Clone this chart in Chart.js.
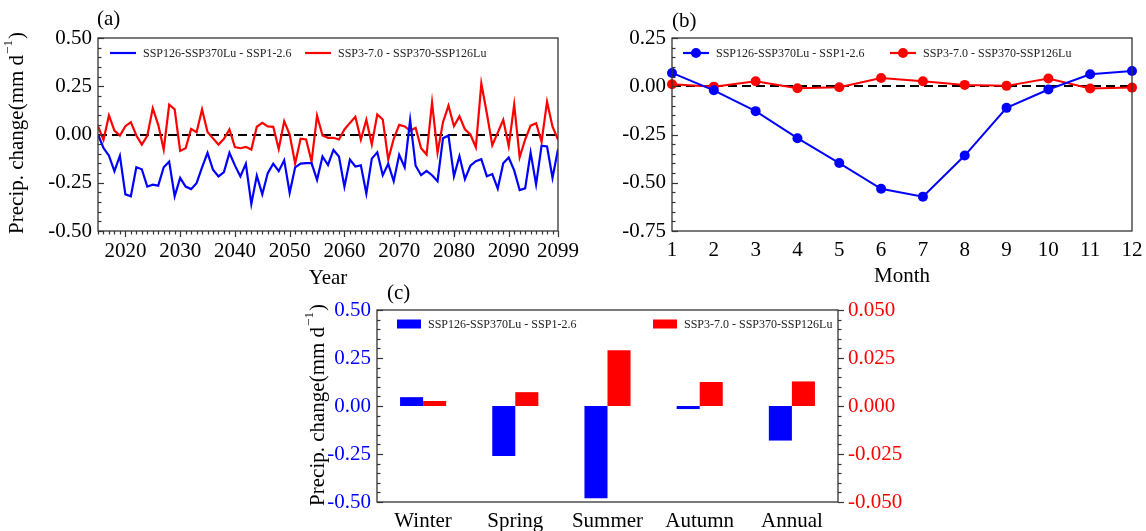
<!DOCTYPE html>
<html>
<head>
<meta charset="utf-8">
<script src="https://cdn.jsdelivr.net/npm/chart.js@4.4.1/dist/chart.umd.min.js"></script>
<style>
  html, body { margin: 0; padding: 0; background: #fff; }
  #wrap { position: relative; width: 1146px; height: 531px; overflow: hidden; }
  canvas { position: absolute; }
</style>
</head>
<body>
<div id="wrap">
  <canvas id="ca" width="590" height="290" style="left:0px;top:0px;"></canvas>
  <canvas id="cb" width="571" height="290" style="left:575px;top:0px;"></canvas>
  <canvas id="cc" width="620" height="251" style="left:290px;top:280px;"></canvas>
</div>
<script>
// ---- data ----
var seriesNames = ['SSP126-SSP370Lu - SSP1-2.6', 'SSP3-7.0 - SSP370-SSP126Lu'];

var years = [];
for (var yr = 2015; yr <= 2099; yr++) years.push(yr);

// (a) annual series 2015-2099
var annualBlue = [
  0.0, -0.07, -0.11, -0.19, -0.11, -0.31, -0.32, -0.17, -0.18, -0.27,
  -0.26, -0.265, -0.17, -0.14, -0.32, -0.225, -0.27, -0.283, -0.252, -0.17,
  -0.095, -0.183, -0.217, -0.195, -0.095, -0.16, -0.217, -0.152, -0.36, -0.213,
  -0.31, -0.2, -0.151, -0.19, -0.133, -0.302, -0.17, -0.151, -0.148, -0.148,
  -0.235, -0.114, -0.158, -0.08, -0.114, -0.27, -0.13, -0.166, -0.16, -0.306,
  -0.125, -0.092, -0.211, -0.152, -0.242, -0.105, -0.17, 0.076, -0.162, -0.211,
  -0.189, -0.211, -0.242, -0.019, -0.005, -0.216, -0.112, -0.231, -0.162, -0.138,
  -0.128, -0.216, -0.205, -0.28, -0.149, -0.119, -0.186, -0.288, -0.279, -0.094,
  -0.259, -0.058, -0.062, -0.225, -0.076
];
var annualRed = [
  0.043, -0.028, 0.099, 0.02, -0.005, 0.043, 0.064, -0.005, -0.052, -0.007,
  0.136, 0.05, -0.078, 0.155, 0.13, -0.085, -0.071, 0.029, 0.012, 0.13,
  0.013, -0.02, -0.052, -0.022, 0.026, -0.065, -0.071, -0.064, -0.078, 0.04,
  0.06, 0.042, 0.04, -0.075, 0.069, 0.0, -0.15, -0.022, -0.026, -0.14,
  0.098, -0.005, -0.017, -0.017, -0.026, 0.026, 0.06, 0.092, -0.026, 0.076,
  -0.052, 0.104, 0.078, -0.13, -0.022, 0.05, 0.042, 0.02, 0.035, -0.071,
  -0.104, 0.166, -0.094, 0.064, 0.15, 0.043, 0.094, 0.027, 0.0, -0.066,
  0.264, 0.11, -0.055, 0.01, 0.076, -0.06, 0.155, -0.118, -0.026, 0.046,
  0.058, -0.038, 0.17, 0.04, -0.026
];
var yearTicks = [2020, 2030, 2040, 2050, 2060, 2070, 2080, 2090, 2099];
var aTicks = [-0.5, -0.25, 0, 0.25, 0.5];

// (b) monthly
var months = [1, 2, 3, 4, 5, 6, 7, 8, 9, 10, 11, 12];
var monthBlue = [0.069, -0.021, -0.129, -0.269, -0.398, -0.531, -0.572, -0.359, -0.112, -0.017, 0.062, 0.079];
var monthRed = [0.010, -0.002, 0.026, -0.010, -0.005, 0.043, 0.026, 0.007, 0.002, 0.040, -0.012, -0.007];
var bTicks = [-0.75, -0.5, -0.25, 0, 0.25];

// (c) seasonal
var seasons = ['Winter', 'Spring', 'Summer', 'Autumn', 'Annual'];
var seasonBlue = [0.046, -0.26, -0.48, -0.016, -0.18];
var seasonRed = [0.0026, 0.0072, 0.029, 0.0125, 0.0128];
var cLeftTicks = [-0.5, -0.25, 0, 0.25, 0.5];
var cRightTicks = [-0.05, -0.025, 0, 0.025, 0.05];

// ---- style ----
var BLUE = 'rgb(0,0,255)';
var RED = 'rgb(255,0,0)';
var FAM = '"Liberation Serif", "Times New Roman", serif';
var tickFont = { family: FAM, size: 21 };

function fixTicks(list) {
  return function (s) { s.ticks = list.map(function (v) { return { value: v }; }); };
}

// frame, ticks, zero line, legend and texts
var deco = {
  id: 'deco',
  beforeDatasetsDraw: function (chart, args, o) {
    if (!o.zero) return;
    var ctx = chart.ctx, a = chart.chartArea;
    var y0 = Math.round(chart.scales.y.getPixelForValue(0));
    ctx.save();
    ctx.strokeStyle = '#000';
    ctx.lineWidth = 2;
    ctx.setLineDash([9, 5]);
    ctx.beginPath();
    ctx.moveTo(a.left, y0);
    ctx.lineTo(a.right, y0);
    ctx.stroke();
    ctx.restore();
  },
  afterDraw: function (chart, args, o) {
    var ctx = chart.ctx, a = chart.chartArea;
    ctx.save();
    ctx.strokeStyle = '#333';
    ctx.lineWidth = 1.3;
    ctx.strokeRect(a.left, a.top, a.right - a.left, a.bottom - a.top);

    (o.ticks || []).forEach(function (t) {
      var sc = chart.scales[t.axis];
      var n = Math.round((t.to - t.from) / t.step);
      ctx.strokeStyle = '#333';
      ctx.lineWidth = 1.2;
      for (var i = 0; i <= n; i++) {
        var v = t.from + i * t.step;
        var major = t.majors.some(function (m) { return Math.abs(m - v) < 1e-6; });
        var len = major ? 6 : 3.5;
        var p = Math.round(sc.getPixelForValue(v)) + 0.5;
        ctx.beginPath();
        if (t.side === 'left') { ctx.moveTo(a.left, p); ctx.lineTo(a.left + t.dir * len, p); }
        else if (t.side === 'right') { ctx.moveTo(a.right, p); ctx.lineTo(a.right + t.dir * len, p); }
        else { ctx.moveTo(p, a.bottom); ctx.lineTo(p, a.bottom + t.dir * len); }
        ctx.stroke();
      }
    });

    if (o.legend) {
      var L = o.legend;
      ctx.font = L.size + 'px ' + FAM;
      ctx.textBaseline = 'middle';
      ctx.textAlign = 'left';
      L.items.forEach(function (dx, i) {
        var ds = chart.data.datasets[i];
        var x = a.left + dx, y = a.top + L.dy;
        var col = ds.borderColor || ds.backgroundColor;
        if (L.type === 'rect') {
          ctx.fillStyle = ds.backgroundColor;
          ctx.fillRect(x, y - L.h / 2, L.len, L.h);
        } else {
          ctx.strokeStyle = col;
          ctx.lineWidth = 2.2;
          ctx.beginPath(); ctx.moveTo(x, y); ctx.lineTo(x + L.len, y); ctx.stroke();
          if (L.type === 'point') {
            ctx.fillStyle = col;
            ctx.beginPath(); ctx.arc(x + L.len / 2, y, 5, 0, Math.PI * 2); ctx.fill();
          }
        }
        ctx.fillStyle = '#222';
        ctx.fillText(ds.label, x + L.len + L.gap, y + 1);
      });
    }

    (o.texts || []).forEach(function (t) {
      ctx.font = t.size + 'px ' + FAM;
      ctx.fillStyle = '#000';
      ctx.textAlign = t.align || 'center';
      ctx.textBaseline = 'middle';
      ctx.fillText(t.text, t.x, t.y);
    });

    if (o.ytitle) {
      var T = o.ytitle;
      ctx.translate(T.x, T.y);
      ctx.rotate(-Math.PI / 2);
      var main = 'Precip. change(mm d';
      ctx.font = T.size + 'px ' + FAM;
      var w1 = ctx.measureText(main).width;
      var w3 = ctx.measureText(')').width;
      ctx.font = Math.round(T.size * 0.62) + 'px ' + FAM;
      var w2 = ctx.measureText('\u22121').width;
      var x0 = -(w1 + w2 + w3) / 2;
      ctx.fillStyle = '#000';
      ctx.textAlign = 'left';
      ctx.textBaseline = 'middle';
      ctx.font = T.size + 'px ' + FAM;
      ctx.fillText(main, x0, 0);
      ctx.font = Math.round(T.size * 0.62) + 'px ' + FAM;
      ctx.fillText('\u22121', x0 + w1 + 1, -T.size * 0.42);
      ctx.font = T.size + 'px ' + FAM;
      ctx.fillText(')', x0 + w1 + w2 + 2, 0);
    }
    ctx.restore();
  }
};

function pts(xs, ys) {
  return xs.map(function (x, i) { return { x: x, y: ys[i] }; });
}

// ---- (a) ----
new Chart(document.getElementById('ca'), {
  type: 'line',
  data: {
    datasets: [
      { label: seriesNames[0], data: pts(years, annualBlue), borderColor: BLUE, borderWidth: 2.2, pointRadius: 0, tension: 0 },
      { label: seriesNames[1], data: pts(years, annualRed), borderColor: RED, borderWidth: 2.2, pointRadius: 0, tension: 0 }
    ]
  },
  options: {
    responsive: false,
    animation: false,
    layout: { padding: { left: 0, right: 32, top: 38, bottom: 0 } },
    plugins: {
      legend: { display: false },
      tooltip: { enabled: false },
      deco: {
        zero: true,
        ticks: [
          { axis: 'y', side: 'left', dir: 1, from: -0.5, to: 0.5, step: 0.05, majors: aTicks },
          { axis: 'x', side: 'bottom', dir: 1, from: 2015, to: 2099, step: 1, majors: yearTicks }
        ],
        legend: { type: 'line', dy: 15, len: 26, gap: 7, size: 12, items: [12, 207] },
        texts: [
          { text: '(a)', x: 97, y: 19, size: 21, align: 'left' },
          { text: 'Year', x: 328, y: 278, size: 21 }
        ],
        ytitle: { x: 17, y: 134, size: 21 }
      }
    },
    scales: {
      x: {
        type: 'linear', min: 2015, max: 2099,
        grid: { display: false, drawTicks: false }, border: { display: false },
        afterBuildTicks: fixTicks(yearTicks),
        ticks: { font: tickFont, color: '#000', padding: 8, maxRotation: 0, autoSkip: false,
                 callback: function (v) { return String(v); } },
        afterFit: function (s) { s.height = 59; s.paddingLeft = 0; s.paddingRight = 0; }
      },
      y: {
        min: -0.5, max: 0.5,
        grid: { display: false, drawTicks: false }, border: { display: false },
        afterBuildTicks: fixTicks(aTicks),
        ticks: { font: tickFont, color: '#000', padding: 6,
                 callback: function (v) { return v.toFixed(2); } },
        afterFit: function (s) { s.width = 98; s.paddingTop = 0; s.paddingBottom = 0; }
      }
    }
  },
  plugins: [deco]
});

// ---- (b) ----
new Chart(document.getElementById('cb'), {
  type: 'line',
  data: {
    datasets: [
      { label: seriesNames[0], data: pts(months, monthBlue), borderColor: BLUE, backgroundColor: BLUE,
        borderWidth: 2, pointRadius: 5, pointBackgroundColor: BLUE, pointBorderWidth: 0, tension: 0 },
      { label: seriesNames[1], data: pts(months, monthRed), borderColor: RED, backgroundColor: RED,
        borderWidth: 2, pointRadius: 5, pointBackgroundColor: RED, pointBorderWidth: 0, tension: 0 }
    ]
  },
  options: {
    responsive: false,
    animation: false,
    clip: false,
    layout: { padding: { left: 0, right: 14, top: 38, bottom: 0 } },
    plugins: {
      legend: { display: false },
      tooltip: { enabled: false },
      deco: {
        zero: true,
        ticks: [
          { axis: 'y', side: 'left', dir: 1, from: -0.75, to: 0.25, step: 0.05, majors: bTicks }
        ],
        legend: { type: 'point', dy: 15, len: 26, gap: 7, size: 12, items: [11, 218] },
        texts: [
          { text: '(b)', x: 97, y: 21, size: 21, align: 'left' },
          { text: 'Month', x: 327, y: 276, size: 21 }
        ]
      }
    },
    scales: {
      x: {
        type: 'linear', min: 1, max: 12,
        grid: { display: false, drawTicks: false }, border: { display: false },
        afterBuildTicks: fixTicks(months),
        ticks: { font: tickFont, color: '#000', padding: 7, maxRotation: 0, autoSkip: false,
                 callback: function (v) { return String(v); } },
        afterFit: function (s) { s.height = 59; s.paddingLeft = 0; s.paddingRight = 0; }
      },
      y: {
        min: -0.75, max: 0.25,
        grid: { display: false, drawTicks: false }, border: { display: false },
        afterBuildTicks: fixTicks(bTicks),
        ticks: { font: tickFont, color: '#000', padding: 6,
                 callback: function (v) { return v.toFixed(2); } },
        afterFit: function (s) { s.width = 97; s.paddingTop = 0; s.paddingBottom = 0; }
      }
    }
  },
  plugins: [deco]
});

// ---- (c) ----
new Chart(document.getElementById('cc'), {
  type: 'bar',
  data: {
    labels: seasons,
    datasets: [
      { label: seriesNames[0], data: seasonBlue, backgroundColor: BLUE, yAxisID: 'y' },
      { label: seriesNames[1], data: seasonRed, backgroundColor: RED, yAxisID: 'y1' }
    ]
  },
  options: {
    responsive: false,
    animation: false,
    barPercentage: 1,
    categoryPercentage: 0.5,
    layout: { padding: { left: 0, right: 0, top: 30, bottom: 0 } },
    plugins: {
      legend: { display: false },
      tooltip: { enabled: false },
      deco: {
        ticks: [
          { axis: 'y', side: 'left', dir: 1, from: -0.5, to: 0.5, step: 0.05, majors: cLeftTicks },
          { axis: 'y1', side: 'right', dir: 1, from: -0.05, to: 0.05, step: 0.005, majors: cRightTicks }
        ],
        legend: { type: 'rect', dy: 14, len: 24, h: 9, gap: 7, size: 12, items: [20, 276] },
        texts: [
          { text: '(c)', x: 97, y: 13, size: 21, align: 'left' }
        ],
        ytitle: { x: 28, y: 126, size: 21 }
      }
    },
    scales: {
      x: {
        grid: { display: false, drawTicks: false }, border: { display: false },
        ticks: { font: tickFont, color: '#000', padding: 7, maxRotation: 0, autoSkip: false },
        afterFit: function (s) { s.height = 29; s.paddingLeft = 0; s.paddingRight = 0; }
      },
      y: {
        position: 'left', min: -0.5, max: 0.5,
        grid: { display: false, drawTicks: false }, border: { display: false },
        afterBuildTicks: fixTicks(cLeftTicks),
        ticks: { font: tickFont, color: BLUE, padding: 6,
                 callback: function (v) { return v.toFixed(2); } },
        afterFit: function (s) { s.width = 87; s.paddingTop = 0; s.paddingBottom = 0; }
      },
      y1: {
        position: 'right', min: -0.05, max: 0.05,
        grid: { display: false, drawTicks: false }, border: { display: false },
        afterBuildTicks: fixTicks(cRightTicks),
        ticks: { font: tickFont, color: RED, padding: 10,
                 callback: function (v) { return v.toFixed(3); } },
        afterFit: function (s) { s.width = 72; s.paddingTop = 0; s.paddingBottom = 0; }
      }
    }
  },
  plugins: [deco]
});
</script>
</body>
</html>
